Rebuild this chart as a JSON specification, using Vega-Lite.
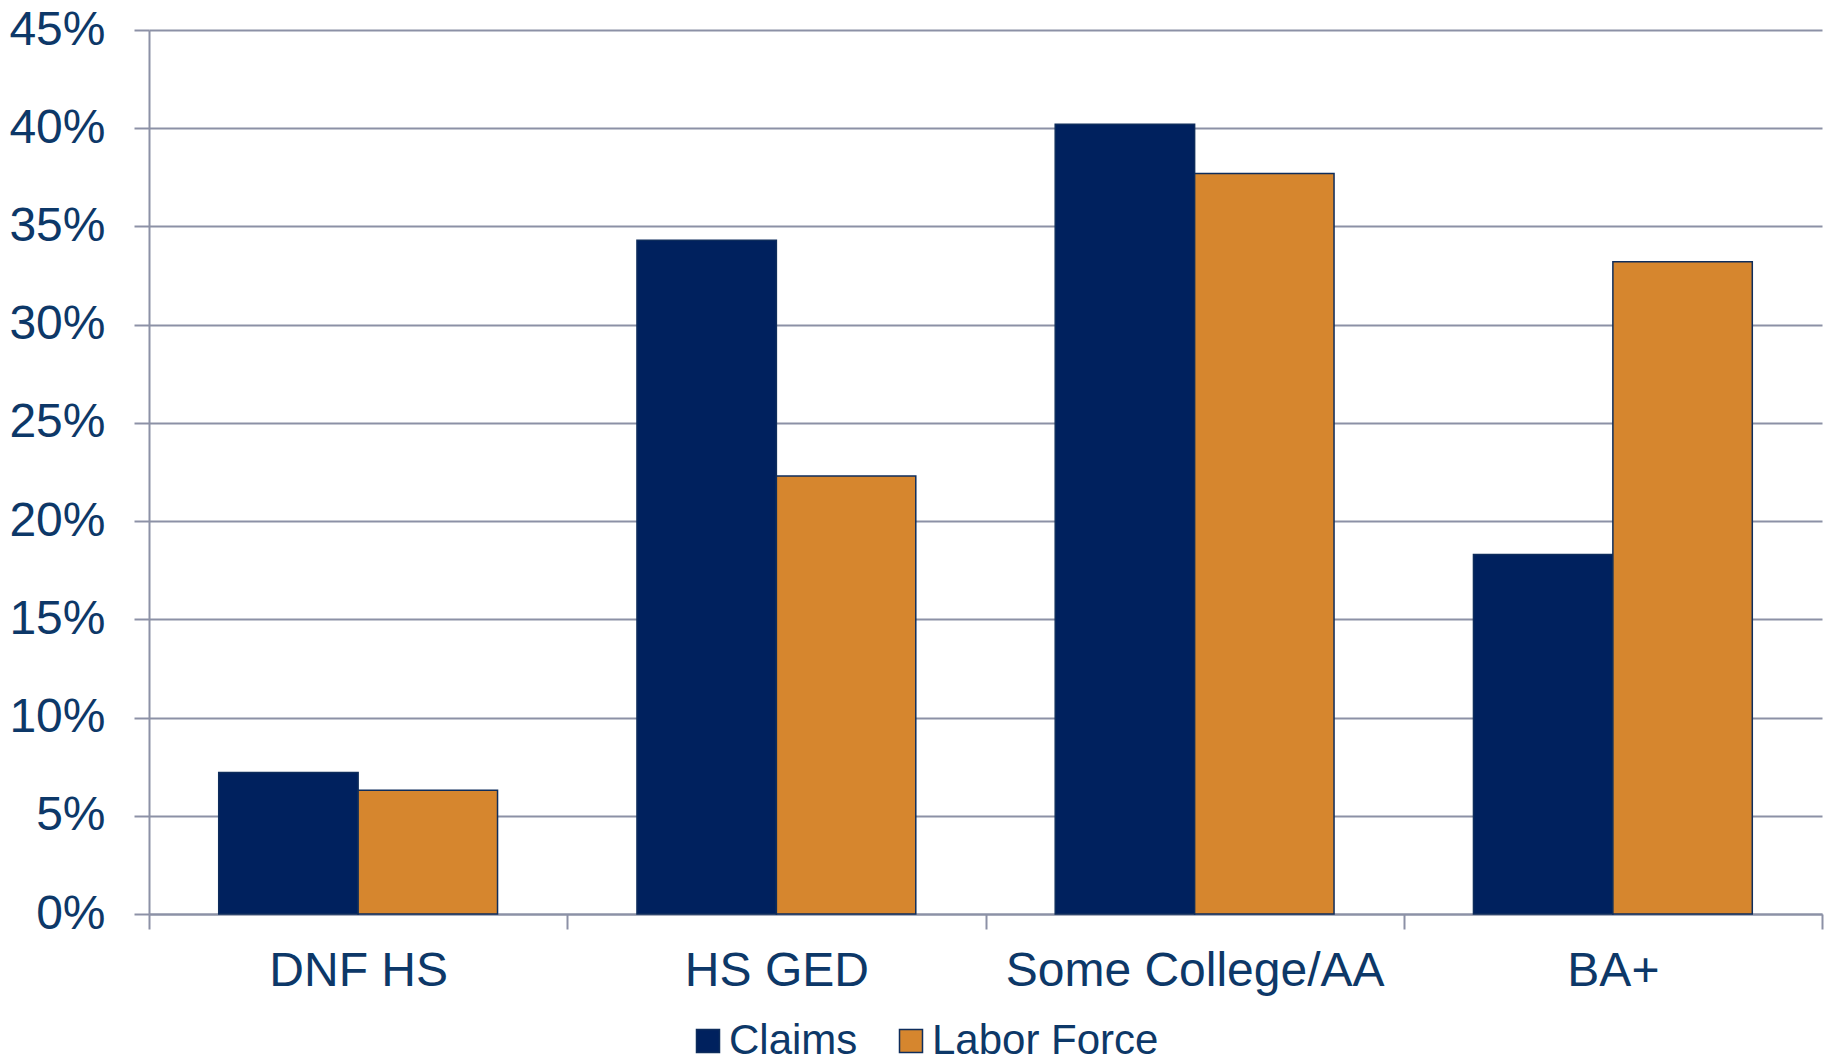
{
  "$schema": "https://vega.github.io/schema/vega-lite/v6.json",
  "autosize": "none",
  "width": 1673,
  "height": 884,
  "padding": {"left": 149, "top": 30, "right": 7, "bottom": 149},
  "background": "white",
  "config": {
    "view": {"stroke": null},
    "font": "Liberation Sans",
    "axis": {
      "labelFont": "Liberation Sans",
      "labelColor": "#0D3868",
      "labelLimit": 0,
      "domainColor": "#8C91A6",
      "tickColor": "#8C91A6",
      "gridColor": "#8C91A6",
      "domainWidth": 2,
      "tickWidth": 2,
      "gridWidth": 2,
      "gridOpacity": 1,
      "tickSize": 15,
      "title": null
    },
    "legend": {
      "labelFont": "Liberation Sans",
      "labelColor": "#0D3868",
      "labelLimit": 0
    }
  },
  "data": {
    "values": [
      {"category": "DNF HS", "series": "Claims", "value": 0.072},
      {"category": "DNF HS", "series": "Labor Force", "value": 0.063},
      {"category": "HS GED", "series": "Claims", "value": 0.343},
      {"category": "HS GED", "series": "Labor Force", "value": 0.223},
      {"category": "Some College/AA", "series": "Claims", "value": 0.402},
      {"category": "Some College/AA", "series": "Labor Force", "value": 0.377},
      {"category": "BA+", "series": "Claims", "value": 0.183},
      {"category": "BA+", "series": "Labor Force", "value": 0.332}
    ]
  },
  "mark": {"type": "bar", "stroke": "#0E2D5C", "strokeWidth": 1.5},
  "encoding": {
    "x": {
      "field": "category",
      "type": "nominal",
      "sort": ["DNF HS", "HS GED", "Some College/AA", "BA+"],
      "scale": {"paddingInner": 0, "paddingOuter": 0},
      "axis": {
        "labelAngle": 0,
        "labelFontSize": 48,
        "labelPadding": 18,
        "labelLimit": 0,
        "tickBand": "extent",
        "grid": false,
        "domain": true,
        "ticks": true
      }
    },
    "xOffset": {
      "field": "series",
      "type": "nominal",
      "sort": ["Claims", "Labor Force"],
      "scale": {"paddingInner": 0, "paddingOuter": 0.5}
    },
    "y": {
      "field": "value",
      "type": "quantitative",
      "scale": {"domain": [0, 0.45], "nice": false},
      "axis": {
        "format": ".0%",
        "values": [0, 0.05, 0.1, 0.15, 0.2, 0.25, 0.3, 0.35, 0.4, 0.45],
        "labelFontSize": 48,
        "labelPadding": 29,
        "grid": true,
        "domain": true,
        "ticks": true
      }
    },
    "color": {
      "field": "series",
      "type": "nominal",
      "sort": ["Claims", "Labor Force"],
      "scale": {"domain": ["Claims", "Labor Force"], "range": ["#00215E", "#D6862E"]},
      "legend": {
        "title": null,
        "orient": "none",
        "direction": "horizontal",
        "legendX": 538,
        "legendY": 990,
        "symbolType": "square",
        "symbolSize": 529,
        "symbolStrokeColor": "#0E2D5C",
        "symbolStrokeWidth": 1.5,
        "symbolOpacity": 1,
        "labelFontSize": 42,
        "labelOffset": 0,
        "labelLimit": 0,
        "columnPadding": 32,
        "padding": 0
      }
    }
  }
}
